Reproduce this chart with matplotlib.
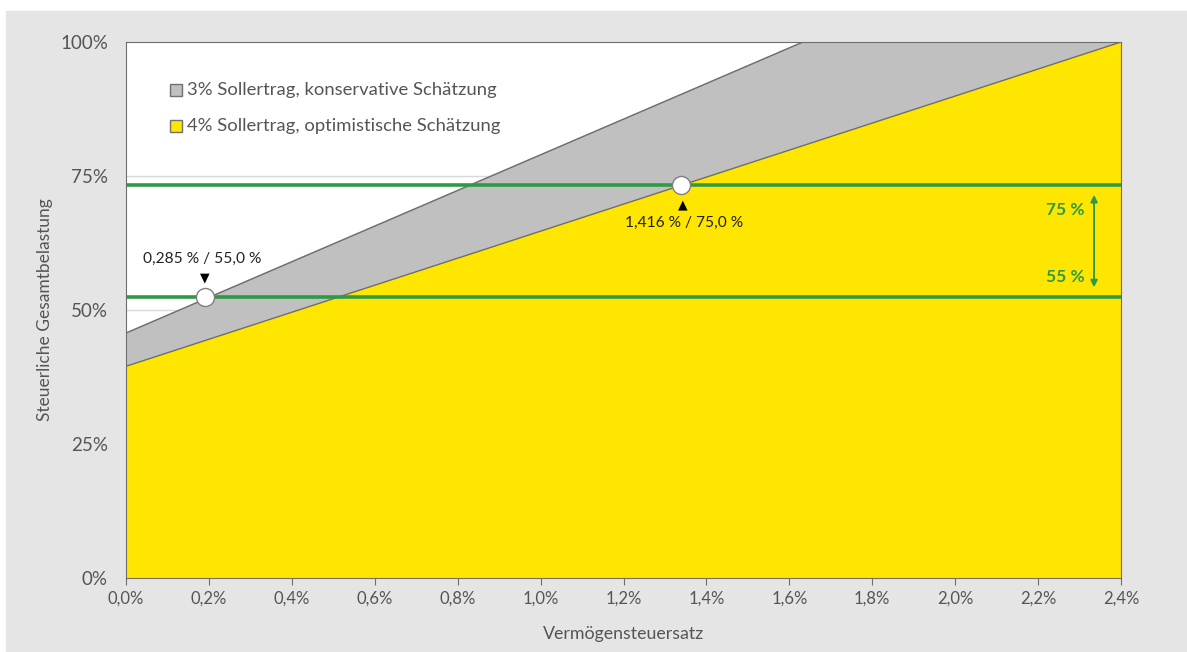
import matplotlib.pyplot as plt
from matplotlib.patches import Rectangle

# ── Daten ───────────────────────────────────
x_rate      = [0.0, 2.4]           # Vermögensteuersatz in %
belast_4pct = [39.5, 100.0]        # 4% Sollertrag, optimistisch
belast_3pct = [45.7, 125.5]        # 3% Sollertrag, konservativ

schwelle_hoch = 73.3
schwelle_tief = 52.4
punkt_x = [0.19, 1.339]
punkt_y = [schwelle_tief, schwelle_hoch]
punkt_label = ["0,285 % / 55,0 %", "1,416 % / 75,0 %"]

x_ticks  = [0.0, 0.2, 0.4, 0.6, 0.8, 1.0, 1.2, 1.4, 1.6, 1.8, 2.0, 2.2, 2.4]
x_labels = ["0,0%", "0,2%", "0,4%", "0,6%", "0,8%", "1,0%", "1,2%",
            "1,4%", "1,6%", "1,8%", "2,0%", "2,2%", "2,4%"]
y_ticks  = [0, 25, 50, 75, 100]
y_labels = ["0%", "25%", "50%", "75%", "100%"]

GELB  = "#ffe600"
GRAU  = "#c0c0c0"
GRUEN = "#2e9a45"
TEXT  = "#555555"

plt.rcParams['font.family'] = ['Lato', 'DejaVu Sans']

fig = plt.figure(figsize=(11.87, 6.52), dpi=100)
fig.patches.append(Rectangle((6 / 1187, 0), 1, 1 - 11 / 652,
                             transform=fig.transFigure, color="#e5e5e5", zorder=-10))

ax = fig.add_axes([126 / 1187, 74 / 652, 995 / 1187, 536 / 652])
ax.set_facecolor("white")

# Gitter nur im weißen Bereich sichtbar
for y in y_ticks[1:-1]:
    ax.axhline(y, color="#d9d9d9", lw=1, zorder=0)

ax.fill_between(x_rate, belast_3pct, 0, color=GRAU, zorder=1)
ax.fill_between(x_rate, belast_4pct, 0, color=GELB, zorder=2)
ax.plot(x_rate, belast_3pct, color="#6e6e6e", lw=1, zorder=3)
ax.plot(x_rate, belast_4pct, color="#6e6e6e", lw=1, zorder=3)

ax.axhline(schwelle_hoch, color=GRUEN, lw=2.6, zorder=4)
ax.axhline(schwelle_tief, color=GRUEN, lw=2.6, zorder=4)

ax.plot(punkt_x, punkt_y, "o", ms=13, mfc="white", mec="#808080", mew=1, zorder=6)

# Beschriftung der Schnittpunkte
ax.annotate("▼", (punkt_x[0], punkt_y[0]), xytext=(0, 14), textcoords="offset points",
            ha="center", va="center", fontsize=9, color="black", family=['DejaVu Sans'])
ax.annotate(punkt_label[0], (punkt_x[0], punkt_y[0]), xytext=(-2, 27.5), textcoords="offset points",
            ha="center", va="center", fontsize=11.2, color="#222222")
ax.annotate("▲", (punkt_x[1], punkt_y[1]), xytext=(1, -14), textcoords="offset points",
            ha="center", va="center", fontsize=9, color="black", family=['DejaVu Sans'])
ax.annotate(punkt_label[1], (punkt_x[1], punkt_y[1]), xytext=(2, -27), textcoords="offset points",
            ha="center", va="center", fontsize=11.2, color="#222222")

# Doppelpfeil rechts
ax.annotate("", xy=(2.335, schwelle_hoch - 1.3), xytext=(2.335, schwelle_tief + 1.3),
            arrowprops=dict(arrowstyle="<|-|>", color=GRUEN, lw=1.4, mutation_scale=10), zorder=5)
ax.text(2.312, 68.6, "75 %", color=GRUEN, ha="right", va="center", fontsize=12.5, fontweight="bold")
ax.text(2.312, 56.2, "55 %", color=GRUEN, ha="right", va="center", fontsize=12.5, fontweight="bold")

# Legende
leg_x = 0.1206
for i, (farbe, txt) in enumerate([(GRAU, "3% Sollertrag, konservative Schätzung"),
                                  (GELB, "4% Sollertrag, optimistische Schätzung")]):
    yy = 91.0 - i * 6.7
    ax.plot([leg_x], [yy], "s", ms=8, mfc=farbe, mec="#707070", mew=1, zorder=7)
    ax.text(leg_x + 0.027, yy, txt, ha="left", va="center", fontsize=13.3, color=TEXT, zorder=7)

ax.set_xlim(0, 2.4)
ax.set_ylim(0, 100)
ax.set_xticks(x_ticks)
ax.set_xticklabels(x_labels)
ax.set_yticks(y_ticks)
ax.set_yticklabels(y_labels)
ax.tick_params(axis="x", length=5, color="#6e6e6e", labelsize=12, labelcolor=TEXT, pad=4)
ax.tick_params(axis="y", length=0, labelsize=13.5, labelcolor=TEXT, pad=13)
for sp in ax.spines.values():
    sp.set_color("#6e6e6e")
    sp.set_zorder(8)

ax.set_xlabel("Vermögensteuersatz", fontsize=12.8, color=TEXT, labelpad=14)
ax.set_ylabel("Steuerliche Gesamtbelastung", fontsize=12.5, color=TEXT, labelpad=5)

fig.savefig("out.png", dpi=100)
